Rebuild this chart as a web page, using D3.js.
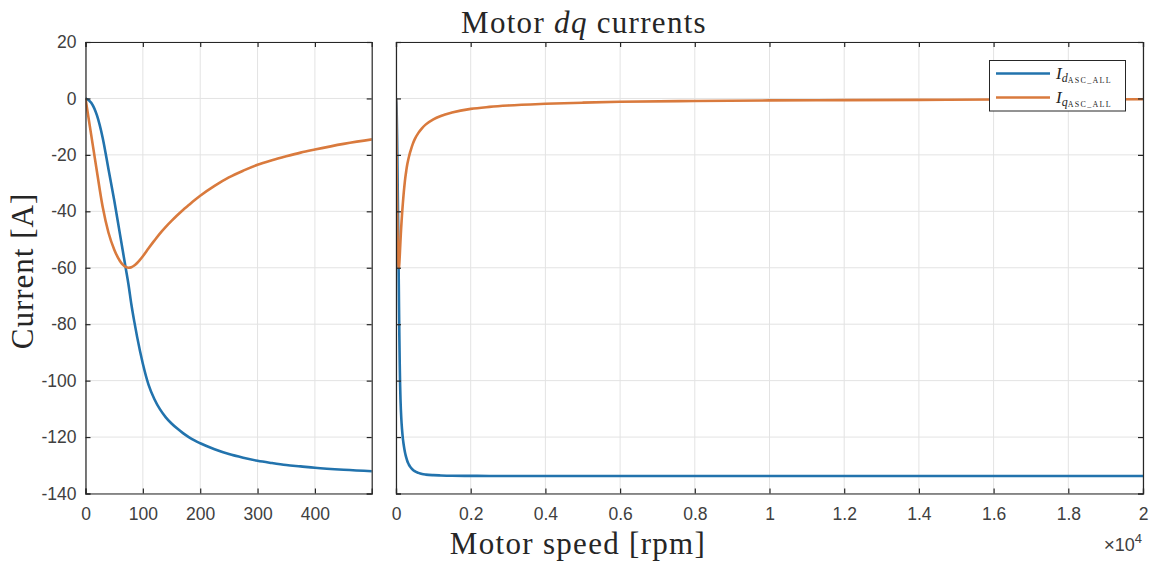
<!DOCTYPE html>
<html>
<head>
<meta charset="utf-8">
<script src="https://cdn.jsdelivr.net/npm/d3@7"></script>
<style>
    body { margin: 0; background: #fff; }
    .tick text { font-family: "Liberation Sans", Arial, sans-serif; font-size: 17.5px; fill: #404040; }
    .serif { font-family: "Liberation Serif", "Times New Roman", serif; fill: #262626; }
</style>
</head>
<body>
<svg id="chart" width="1158" height="568"></svg>
<script>
// motor speed [rpm] and the dq currents [A]
var speed = [0, 10, 20, 30, 40, 50, 60, 65, 70, 75, 80, 85, 90, 100, 110, 120, 130, 140, 150, 160, 170,
    180, 190, 200, 225, 250, 275, 300, 325, 350, 375, 400, 450, 500, 600, 700, 800, 1000, 1200, 1500,
    2000, 2500, 3000, 4000, 5000, 6000, 8000, 10000, 12000, 14000, 16000, 18000, 20000];
var idCurrent = [0, -1.5, -6, -14, -25, -36, -48, -54, -60, -66, -73, -79, -84.5, -94, -101.5, -106.5,
    -110.2, -113, -115.2, -117, -118.6, -120, -121.2, -122.2, -124.3, -126, -127.3, -128.4, -129.2,
    -129.9, -130.4, -130.9, -131.6, -132.1, -132.7, -133.1, -133.3, -133.5, -133.6, -133.7, -133.75,
    -133.8, -133.8, -133.8, -133.8, -133.8, -133.8, -133.8, -133.8, -133.8, -133.8, -133.8, -133.8];
var iqCurrent = [0, -13, -26, -38.5, -47.5, -53.5, -57.6, -58.9, -59.7, -60, -59.8, -59.2, -58.3,
    -55.9, -53.1, -50.4, -47.8, -45.5, -43.4, -41.4, -39.5, -37.8, -36.1, -34.5, -31, -28, -25.6,
    -23.5, -21.9, -20.5, -19.2, -18.1, -16.1, -14.5, -12.2, -10.5, -9.2, -7.4, -6.2, -5, -3.7, -3,
    -2.5, -1.9, -1.5, -1.2, -0.9, -0.7, -0.6, -0.5, -0.4, -0.35, -0.3];

var yTicks = [-140, -120, -100, -80, -60, -40, -20, 0, 20];
var leftTicks = [0, 100, 200, 300, 400];
var rightTicks = [0, 2000, 4000, 6000, 8000, 10000, 12000, 14000, 16000, 18000, 20000];

var colorD = "#2273ad";
var colorQ = "#d97a3d";
var axisColor = "#262626";
var gridColor = "#e3e3e3";

var svg = d3.select("#chart");
var yTop = 42, yBottom = 493.5;

var y = d3.scaleLinear().domain([-140, 20]).range([yBottom, yTop]);

var points = speed.map(function (s, i) {
    return {s: s, d: idCurrent[i], q: iqCurrent[i]};
});

function plain(d) { return String(d); }

function drawPanel(id, x0, x1, domain, ticks, fmt, showY) {
    var x = d3.scaleLinear().domain(domain).range([x0, x1]);
    var g = svg.append("g");
    var h = yBottom - yTop;
    var w = x1 - x0;

    svg.append("clipPath").attr("id", "clip" + id)
        .append("rect").attr("x", x0).attr("y", yTop).attr("width", w).attr("height", h);

    // grid
    g.append("g").selectAll("line").data(ticks).enter().append("line")
        .attr("x1", function (d) { return x(d); }).attr("x2", function (d) { return x(d); })
        .attr("y1", yTop).attr("y2", yBottom)
        .attr("stroke", gridColor).attr("stroke-width", 1);
    g.append("g").selectAll("line").data(yTicks).enter().append("line")
        .attr("x1", x0).attr("x2", x1)
        .attr("y1", function (d) { return y(d); }).attr("y2", function (d) { return y(d); })
        .attr("stroke", gridColor).attr("stroke-width", 1);

    // curves
    var lineD = d3.line().x(function (p) { return x(p.s); }).y(function (p) { return y(p.d); })
        .curve(d3.curveMonotoneX);
    var lineQ = d3.line().x(function (p) { return x(p.s); }).y(function (p) { return y(p.q); })
        .curve(d3.curveMonotoneX);
    var curves = g.append("g").attr("clip-path", "url(#clip" + id + ")");
    curves.append("path").attr("d", lineD(points)).attr("fill", "none")
        .attr("stroke", colorD).attr("stroke-width", 2.6).attr("stroke-linejoin", "round");
    curves.append("path").attr("d", lineQ(points)).attr("fill", "none")
        .attr("stroke", colorQ).attr("stroke-width", 2.6).attr("stroke-linejoin", "round");

    // axes, ticks pointing inward
    g.append("g").attr("transform", "translate(0," + yBottom + ")")
        .call(d3.axisBottom(x).tickValues(ticks).tickFormat(fmt).tickSize(-5).tickPadding(14));
    g.append("g").attr("transform", "translate(0," + yTop + ")")
        .call(d3.axisTop(x).tickValues(ticks).tickFormat("").tickSize(-5));
    g.append("g").attr("transform", "translate(" + x0 + ",0)")
        .call(d3.axisLeft(y).tickValues(yTicks).tickFormat(showY ? plain : "").tickSize(-5).tickPadding(9));
    g.append("g").attr("transform", "translate(" + x1 + ",0)")
        .call(d3.axisRight(y).tickValues(yTicks).tickFormat("").tickSize(-5));

    g.selectAll(".domain").attr("stroke", axisColor).attr("stroke-width", 1.2);
    g.selectAll(".tick line").attr("stroke", axisColor).attr("stroke-width", 1.2);
    g.selectAll(".tick text").attr("fill", "#404040");
    return x;
}

drawPanel("L", 85.5, 371.7, [0, 499], leftTicks, plain, true);
drawPanel("R", 396, 1143, [0, 20000], rightTicks, function (d) { return String(d / 1e4); }, false);

// exponent label
var ex = svg.append("text").attr("x", 1142).attr("y", 551).attr("text-anchor", "end")
    .attr("font-family", "Liberation Sans, Arial, sans-serif").attr("fill", "#404040");
ex.append("tspan").attr("font-size", "19px").text("\u00d7");
ex.append("tspan").attr("font-size", "18px").text("10");
ex.append("tspan").attr("font-size", "13px").attr("dy", -8).text("4");

// title
var title = svg.append("text").attr("class", "serif").attr("x", 584).attr("y", 33)
    .attr("text-anchor", "middle").attr("font-size", "31px").attr("letter-spacing", "1.3px");
title.append("tspan").text("Motor ");
title.append("tspan").attr("font-style", "italic").text("dq");
title.append("tspan").text(" currents");

// axis labels
svg.append("text").attr("class", "serif").attr("x", 578).attr("y", 554)
    .attr("text-anchor", "middle").attr("font-size", "31px").attr("letter-spacing", "1.3px")
    .text("Motor speed [rpm]");
svg.append("text").attr("class", "serif")
    .attr("transform", "translate(33,271) rotate(-90)")
    .attr("text-anchor", "middle").attr("font-size", "31px").attr("letter-spacing", "1px")
    .text("Current [A]");

// legend
var legendItems = [
    {sub: "d", color: colorD},
    {sub: "q", color: colorQ}
];
var lg = svg.append("g");
lg.append("rect").attr("x", 989.5).attr("y", 60.5).attr("width", 136).attr("height", 50.5)
    .attr("fill", "#fff").attr("stroke", axisColor).attr("stroke-width", 1);
legendItems.forEach(function (item, i) {
    var ly = 73.5 + i * 24;
    lg.append("line").attr("x1", 996).attr("x2", 1050).attr("y1", ly).attr("y2", ly)
        .attr("stroke", item.color).attr("stroke-width", 2.6);
    var t = lg.append("text").attr("class", "serif").attr("x", 1056).attr("y", ly + 5);
    t.append("tspan").attr("font-style", "italic").attr("font-size", "17px").text("I");
    t.append("tspan").attr("font-style", "italic").attr("font-size", "12px").attr("dy", 3).text(item.sub);
    t.append("tspan").attr("font-size", "8px").attr("letter-spacing", "1.3px").attr("dy", 1.5).text("ASC_ALL");
});
</script>
</body>
</html>
